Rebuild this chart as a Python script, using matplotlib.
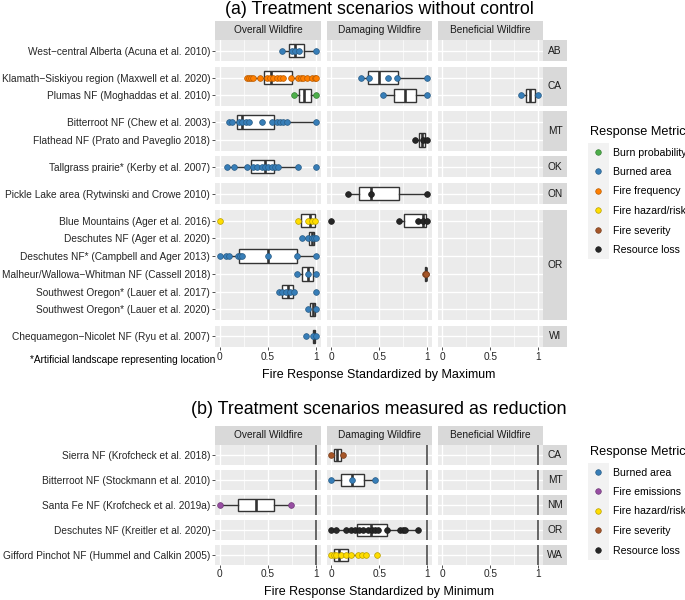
import matplotlib.pyplot as plt
import matplotlib.colors as mcolors
from matplotlib.lines import Line2D
from matplotlib.patches import Rectangle

plt.rcParams['font.family'] = ['Liberation Sans', 'DejaVu Sans']

W, H = 685, 600

facets = ['Overall Wildfire', 'Damaging Wildfire', 'Beneficial Wildfire']

metricColors = {'Burn probability': '#4DAF4A', 'Burned area': '#377EB8',
                'Fire emissions': '#984EA3', 'Fire frequency': '#FF7F00',
                'Fire hazard/risk': '#FFDD00', 'Fire severity': '#A65628',
                'Resource loss': '#262626'}

# ---- (a) treatment scenarios without control ----
aStates = ['AB', 'CA', 'MT', 'OK', 'ON', 'OR', 'WI']
aStudies = [['West\u2212central Alberta (Acuna et al. 2010)'],
            ['Klamath\u2212Siskiyou region (Maxwell et al. 2020)', 'Plumas NF (Moghaddas et al. 2010)'],
            ['Bitterroot NF (Chew et al. 2003)', 'Flathead NF (Prato and Paveglio 2018)'],
            ['Tallgrass prairie* (Kerby et al. 2007)'],
            ['Pickle Lake area (Rytwinski and Crowe 2010)'],
            ['Blue Mountains (Ager et al. 2016)', 'Deschutes NF (Ager et al. 2020)',
             'Deschutes NF* (Campbell and Ager 2013)', 'Malheur/Wallowa\u2212Whitman NF (Cassell 2018)',
             'Southwest Oregon* (Lauer et al. 2017)', 'Southwest Oregon* (Lauer et al. 2020)'],
            ['Chequamegon\u2212Nicolet NF (Ryu et al. 2007)']]

aMetrics = ['Burn probability', 'Burned area', 'Fire frequency', 'Fire hazard/risk',
            'Fire severity', 'Resource loss']

aBoxStudy = [0, 1, 1, 2, 2, 2, 3, 4, 5, 6, 7, 7, 8, 9, 10, 10, 11, 12, 13]
aBoxFacet = [0, 0, 1, 0, 1, 2, 0, 1, 0, 1, 0, 1, 0, 0, 0, 1, 0, 0, 0]
aBoxMetric = ['Burned area', 'Fire frequency', 'Burned area', 'Burn probability', 'Burned area',
              'Burned area', 'Burned area', 'Resource loss', 'Burned area', 'Resource loss',
              'Fire hazard/risk', 'Resource loss', 'Burned area', 'Burned area', 'Burned area',
              'Fire severity', 'Burned area', 'Burned area', 'Burned area']
# whisker low, q1, median, q3, whisker high
aBoxStats = [(0.65, 0.72, 0.78, 0.87, 1.0),
             (0.285, 0.455, 0.53, 0.75, 1.0),
             (0.307, 0.378, 0.496, 0.699, 1.0),
             (0.771, 0.823, 0.878, 0.944, 1.0),
             (0.542, 0.657, 0.769, 0.888, 1.0),
             (0.824, 0.874, 0.919, 0.965, 1.0),
             (0.10, 0.177, 0.226, 0.566, 1.0),
             (0.874, 0.916, 0.948, 0.979, 1.0),
             (0.07, 0.323, 0.469, 0.566, 0.816),
             (0.174, 0.29, 0.409, 0.709, 1.0),
             (0.816, 0.84, 0.934, 0.983, 1.0),
             (0.709, 0.762, 0.951, 0.99, 1.0),
             (0.857, 0.93, 0.955, 0.979, 1.0),
             (0.0, 0.201, 0.5, 0.799, 1.0),
             (0.806, 0.857, 0.913, 0.962, 1.0),
             (0.975, 0.978, 0.985, 0.99, 0.99),
             (0.615, 0.649, 0.705, 0.764, 0.771),
             (0.92, 0.937, 0.962, 0.983, 1.0),
             (0.962, 0.962, 0.979, 0.99, 1.0)]
aBoxPoints = [[0.65, 0.75, 0.78, 0.82, 1.0],
              [0.285, 0.306, 0.323, 0.347, 0.417, 0.486, 0.521, 0.556, 0.59, 0.625, 0.66,
               0.74, 0.816, 0.844, 0.868, 0.903, 0.955, 0.983, 1.0],
              [0.307, 0.39, 0.594, 0.69, 1.0],
              [0.771, 1.0],
              [0.542, 1.0],
              [0.824, 1.0],
              [0.10, 0.13, 0.20, 0.23, 0.27, 0.30, 0.44, 0.545, 0.59, 0.625, 0.66, 0.70, 1.0],
              [0.874, 0.951, 1.0],
              [0.07, 0.149, 0.278, 0.347, 0.382, 0.434, 0.469, 0.503, 0.538, 0.573, 0.608, 0.816, 1.0],
              [0.174, 0.409, 1.0],
              [0.0, 0.816, 0.92, 0.955, 0.99],
              [0.0, 0.709, 0.909, 0.961, 1.0],
              [0.857, 0.92, 0.955, 0.98, 1.0],
              [0.0, 0.069, 0.094, 0.184, 0.208, 0.233, 0.503, 0.799, 1.0],
              [0.806, 0.913, 1.0],
              [0.975, 0.985, 0.99],
              [0.615, 0.642, 0.684, 0.729, 0.771, 1.0],
              [0.92, 1.0],
              [0.896, 0.965, 1.0]]

# ---- (b) treatment scenarios measured as reduction ----
bStates = ['CA', 'MT', 'NM', 'OR', 'WA']
bStudies = [['Sierra NF (Krofcheck et al. 2018)'],
            ['Bitterroot NF (Stockmann et al. 2010)'],
            ['Santa Fe NF (Krofcheck et al. 2019a)'],
            ['Deschutes NF (Kreitler et al. 2020)'],
            ['Gifford Pinchot NF (Hummel and Calkin 2005)']]

bMetrics = ['Burned area', 'Fire emissions', 'Fire hazard/risk', 'Fire severity', 'Resource loss']

bBoxStudy = [0, 1, 2, 3, 4]
bBoxFacet = [1, 1, 0, 1, 1]
bBoxMetric = ['Fire severity', 'Burned area', 'Fire emissions', 'Resource loss', 'Fire hazard/risk']
bBoxStats = [(0.0, 0.028, 0.063, 0.098, 0.122),
             (0.0, 0.105, 0.216, 0.339, 0.454),
             (0.0, 0.191, 0.372, 0.559, 0.74),
             (0.0, 0.269, 0.409, 0.584, 0.899),
             (0.0, 0.024, 0.08, 0.174, 0.357)]
bBoxPoints = [[0.0, 0.122],
              [0.0, 0.216, 0.454],
              [0.0, 0.74],
              [0.0, 0.052, 0.157, 0.21, 0.245, 0.287, 0.332, 0.385, 0.42, 0.454, 0.489,
               0.584, 0.717, 0.752, 0.769, 0.899],
              [0.0, 0.028, 0.052, 0.105, 0.157, 0.21, 0.28, 0.315, 0.357, 0.479]]

colX = [(215, 321), (326.5, 432), (437.5, 543)]
stripX = (543, 567)
gap = 5.5
txtSize = 7.3
legSize = 7.6

fig = plt.figure(figsize=(W / 100, H / 100), dpi=100)


def pxAxes(x0, y0, x1, y1):
    return fig.add_axes([x0 / W, 1 - y1 / H, (x1 - x0) / W, (y1 - y0) / H])


def darker(c, f=0.72):
    r, g, b = mcolors.to_rgb(c)
    return (r * f, g * f, b * f)


def stripAxes(x0, y0, x1, y1, label):
    sax = pxAxes(x0, y0, x1, y1)
    sax.set_facecolor('#D9D9D9')
    sax.set_xticks([])
    sax.set_yticks([])
    for s in sax.spines.values():
        s.set_visible(False)
    sax.text(0.5, 0.5, label, transform=sax.transAxes, ha='center', va='center',
             fontsize=txtSize, color='#1A1A1A')


def drawPart(states, studies, boxStudy, boxFacet, boxMetric, boxStats, boxPoints,
             top, bottom, refLine):
    n = [len(s) for s in studies]
    unit = (bottom - top - gap * (len(n) - 1)) / sum(k + 0.2 for k in n)
    # study index -> (facet row, position)
    where = []
    for i, k in enumerate(n):
        for r in range(k):
            where.append((i, r))
    axes = {}
    y = top
    for i, state in enumerate(states):
        h = (n[i] + 0.2) * unit
        for j in range(len(facets)):
            x0, x1 = colX[j]
            ax = pxAxes(x0, y, x1, y + h)
            ax.set_facecolor('#EBEBEB')
            ax.set_xlim(-0.05, 1.05)
            ax.set_ylim(n[i] - 0.4, -0.6)
            for v in [0.25, 0.75]:
                ax.axvline(v, color='white', lw=0.5, zorder=0)
            for v in [0, 0.5, 1]:
                ax.axvline(v, color='white', lw=1.0, zorder=0)
            for r in range(n[i]):
                ax.axhline(r, color='white', lw=1.0, zorder=0)
            if refLine:
                ax.axvline(1, color='#4D4D4D', lw=1.2, zorder=1)
            for s in ax.spines.values():
                s.set_visible(False)
            ax.set_yticks(range(n[i]))
            if j == 0:
                ax.set_yticklabels(studies[i])
                ax.tick_params(axis='y', length=2, width=0.6, color='#333333', pad=1.5,
                               labelsize=txtSize, labelcolor='#262626')
            else:
                ax.set_yticklabels([])
                ax.tick_params(axis='y', length=0)
            ax.set_xticks([0, 0.5, 1])
            if i == len(states) - 1:
                ax.set_xticklabels(['0', '0.5', '1'])
                ax.tick_params(axis='x', length=2, width=0.6, color='#333333', pad=1.5,
                               labelsize=txtSize, labelcolor='#262626')
            else:
                ax.set_xticklabels([])
                ax.tick_params(axis='x', length=0)
            axes[(i, j)] = ax
            if i == 0:
                stripAxes(x0, top - 19.5, x1, top, facets[j])
        stripAxes(stripX[0], y, stripX[1], y + h, state)
        y += h + gap

    for k in range(len(boxStudy)):
        i, r = where[boxStudy[k]]
        ax = axes[(i, boxFacet[k])]
        lo, q1, med, q3, hi = boxStats[k]
        ax.bxp([dict(whislo=lo, q1=q1, med=med, q3=q3, whishi=hi, fliers=[])],
               positions=[r], widths=0.75, orientation='horizontal', patch_artist=True,
               showcaps=False, showfliers=False, manage_ticks=False,
               boxprops=dict(facecolor='white', edgecolor='#333333', linewidth=1.0),
               whiskerprops=dict(color='#333333', linewidth=1.0),
               medianprops=dict(color='#333333', linewidth=1.9), zorder=2)
        col = metricColors[boxMetric[k]]
        pts = boxPoints[k]
        ax.scatter(pts, [r] * len(pts), s=17, color=col, edgecolors=[darker(col)],
                   linewidths=0.5, zorder=3)


def drawLegend(metrics, titleTop):
    handles = [Line2D([], [], marker='o', ls='', ms=4, mfc=metricColors[m],
                      mec=darker(metricColors[m]), mew=0.5) for m in metrics]
    # grey key column
    keyTop = titleTop + 17
    fig.add_artist(Rectangle((588 / W, 1 - (keyTop + 19.4 * len(metrics)) / H),
                             21 / W, 19.4 * len(metrics) / H, transform=fig.transFigure,
                             facecolor='#F2F2F2', edgecolor='none', zorder=0))
    fig.legend(handles, metrics, loc='upper left', bbox_to_anchor=(590 / W, 1 - titleTop / H),
               frameon=False, title='Response Metric', fontsize=legSize, title_fontsize=9.2,
               alignment='left', handlelength=1.5, handletextpad=0.66, labelspacing=0.9,
               borderpad=0, borderaxespad=0)


drawPart(aStates, aStudies, aBoxStudy, aBoxFacet, aBoxMetric, aBoxStats, aBoxPoints,
         40, 347, False)
drawPart(bStates, bStudies, bBoxStudy, bBoxFacet, bBoxMetric, bBoxStats, bBoxPoints,
         445, 564.5, True)

drawLegend(aMetrics, 126)
drawLegend(bMetrics, 446)

fig.text(379 / W, 1 - 9 / H, '(a) Treatment scenarios without control', ha='center', va='center',
         fontsize=12.9)
fig.text(379 / W, 1 - 410 / H, '(b) Treatment scenarios measured as reduction', ha='center',
         va='center', fontsize=12.9)
fig.text(379 / W, 1 - 375 / H, 'Fire Response Standardized by Maximum', ha='center', va='center',
         fontsize=9)
fig.text(379 / W, 1 - 592 / H, 'Fire Response Standardized by Minimum', ha='center', va='center',
         fontsize=9)
fig.text(123 / W, 1 - 360 / H, '*Artificial landscape representing location', ha='center',
         va='center', fontsize=txtSize)

fig.savefig('out.png', dpi=100, facecolor='white')
